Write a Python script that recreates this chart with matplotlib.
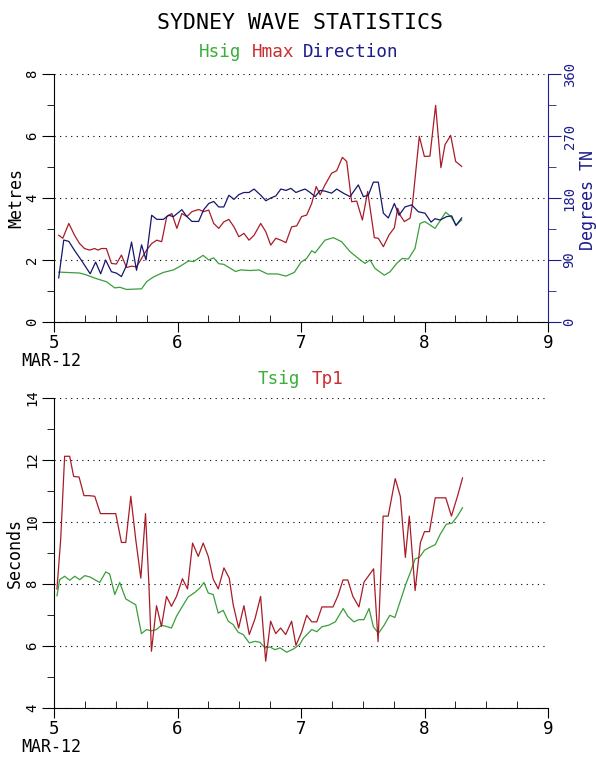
import matplotlib
matplotlib.use('Agg')
from matplotlib import pyplot as plt
from matplotlib.ticker import MultipleLocator

plt.rcParams['font.family'] = ['DejaVu Sans Mono', 'DejaVu Sans']

GREEN = '#3a9e3a'
RED = '#a81c28'
NAVY = '#16166e'
GREEN_TXT = '#3cae3c'
RED_TXT = '#c83030'
NAVY_TXT = '#1c1c8c'

# times are day of month, March 2012
hsig_t = [5.038, 5.207, 5.261, 5.342, 5.424, 5.492, 5.533, 5.587, 5.709, 5.750,
          5.804, 5.886, 5.967, 6.022, 6.090, 6.130, 6.207, 6.253, 6.293, 6.334,
          6.375, 6.470, 6.511, 6.592, 6.660, 6.728, 6.810, 6.878, 6.946, 7.000,
          7.046, 7.087, 7.114, 7.194, 7.262, 7.329, 7.397, 7.464, 7.518, 7.559,
          7.599, 7.675, 7.721, 7.775, 7.820, 7.869, 7.923, 7.964, 8.004, 8.085,
          8.126, 8.171, 8.214, 8.255, 8.301]
hsig = [1.61, 1.58, 1.52, 1.40, 1.30, 1.10, 1.12, 1.05, 1.07, 1.30,
        1.45, 1.60, 1.68, 1.80, 1.97, 1.95, 2.15, 2.00, 2.07, 1.88,
        1.86, 1.63, 1.68, 1.66, 1.68, 1.55, 1.55, 1.48, 1.60, 1.93,
        2.05, 2.30, 2.23, 2.64, 2.72, 2.59, 2.27, 2.05, 1.89, 2.00,
        1.73, 1.51, 1.62, 1.89, 2.05, 2.03, 2.37, 3.18, 3.24, 3.02,
        3.26, 3.54, 3.40, 3.13, 3.29]

hmax_t = [5.038, 5.071, 5.120, 5.166, 5.207, 5.247, 5.288, 5.329, 5.356, 5.383,
          5.424, 5.465, 5.505, 5.546, 5.587, 5.628, 5.668, 5.709, 5.750, 5.791,
          5.832, 5.872, 5.913, 5.954, 5.995, 6.035, 6.076, 6.117, 6.171, 6.212,
          6.253, 6.293, 6.334, 6.375, 6.416, 6.457, 6.497, 6.538, 6.579, 6.620,
          6.674, 6.715, 6.755, 6.796, 6.837, 6.878, 6.924, 6.965, 7.005, 7.046,
          7.087, 7.123, 7.155, 7.194, 7.248, 7.289, 7.335, 7.370, 7.410, 7.451,
          7.497, 7.540, 7.594, 7.626, 7.667, 7.713, 7.756, 7.783, 7.802, 7.837,
          7.883, 7.902, 7.958, 7.999, 8.044, 8.090, 8.133, 8.166, 8.212, 8.252,
          8.301]
hmax = [2.80, 2.70, 3.18, 2.80, 2.53, 2.37, 2.32, 2.37, 2.32, 2.37,
        2.37, 1.89, 1.87, 2.16, 1.76, 1.80, 1.78, 2.05, 2.32, 2.53,
        2.64, 2.59, 3.40, 3.50, 3.02, 3.50, 3.40, 3.56, 3.63, 3.56,
        3.61, 3.18, 3.02, 3.23, 3.31, 3.07, 2.75, 2.86, 2.64, 2.80,
        3.18, 2.91, 2.48, 2.70, 2.64, 2.56, 3.07, 3.10, 3.40, 3.45,
        3.83, 4.37, 4.10, 4.42, 4.80, 4.88, 5.31, 5.18, 3.88, 3.90,
        3.29, 4.21, 2.72, 2.70, 2.43, 2.81, 3.04, 3.67, 3.45, 3.24,
        3.35, 3.78, 5.99, 5.34, 5.35, 6.99, 4.98, 5.72, 6.02, 5.18,
        5.02]

dir_t = [5.038, 5.079, 5.120, 5.166, 5.220, 5.293, 5.337, 5.378, 5.418, 5.465,
         5.505, 5.546, 5.587, 5.628, 5.668, 5.709, 5.745, 5.791, 5.832, 5.886,
         5.927, 5.967, 6.035, 6.076, 6.117, 6.171, 6.212, 6.253, 6.293, 6.334,
         6.375, 6.416, 6.457, 6.497, 6.538, 6.579, 6.620, 6.674, 6.715, 6.755,
         6.796, 6.837, 6.878, 6.918, 6.959, 7.000, 7.033, 7.074, 7.114, 7.155,
         7.194, 7.248, 7.289, 7.343, 7.397, 7.464, 7.505, 7.545, 7.586, 7.626,
         7.667, 7.707, 7.756, 7.794, 7.842, 7.896, 7.950, 8.004, 8.053, 8.085,
         8.126, 8.180, 8.220, 8.255, 8.301]
direction = [64, 119, 117, 104, 90, 70, 87, 70, 90, 73,
             71, 66, 82, 116, 75, 112, 90, 155, 149, 149,
             155, 153, 163, 153, 146, 146, 163, 172, 175, 167,
             167, 184, 178, 185, 188, 188, 193, 184, 176, 180,
             183, 193, 191, 194, 188, 191, 193, 188, 182, 191,
             190, 187, 193, 187, 182, 199, 182, 184, 203, 203,
             158, 151, 172, 155, 167, 170, 160, 158, 145, 150,
             148, 153, 154, 140, 151]

tsig_t = [5.024, 5.046, 5.086, 5.127, 5.168, 5.208, 5.249, 5.289, 5.330, 5.370,
          5.419, 5.451, 5.492, 5.532, 5.581, 5.627, 5.662, 5.708, 5.749, 5.789,
          5.830, 5.870, 5.911, 5.951, 5.992, 6.032, 6.086, 6.141, 6.181, 6.214,
          6.249, 6.289, 6.330, 6.370, 6.411, 6.451, 6.492, 6.532, 6.581, 6.627,
          6.668, 6.708, 6.749, 6.789, 6.830, 6.884, 6.938, 6.990, 7.019, 7.087,
          7.128, 7.169, 7.224, 7.278, 7.341, 7.379, 7.428, 7.469, 7.510, 7.551,
          7.586, 7.627, 7.673, 7.719, 7.760, 7.804, 7.850, 7.886, 7.924, 7.959,
          8.000, 8.041, 8.087, 8.128, 8.177, 8.223, 8.267, 8.308]
tsig = [7.62, 8.14, 8.25, 8.12, 8.25, 8.14, 8.27, 8.23, 8.14, 8.05,
        8.39, 8.32, 7.66, 8.05, 7.52, 7.41, 7.33, 6.40, 6.53, 6.49,
        6.53, 6.67, 6.63, 6.58, 6.96, 7.23, 7.58, 7.73, 7.87, 8.05,
        7.71, 7.66, 7.06, 7.15, 6.80, 6.69, 6.44, 6.37, 6.10, 6.15,
        6.12, 5.94, 5.97, 5.88, 5.94, 5.80, 5.90, 6.05, 6.25, 6.53,
        6.46, 6.62, 6.67, 6.78, 7.21, 6.96, 6.78, 6.85, 6.85, 7.21,
        6.62, 6.41, 6.67, 6.99, 6.92, 7.45, 8.01, 8.38, 8.81, 8.86,
        9.09, 9.18, 9.27, 9.61, 9.93, 9.96, 10.19, 10.46]

tp1_t = [5.024, 5.054, 5.086, 5.127, 5.159, 5.203, 5.243, 5.284, 5.330, 5.376,
         5.419, 5.465, 5.500, 5.546, 5.581, 5.622, 5.662, 5.703, 5.741, 5.768,
         5.789, 5.830, 5.870, 5.911, 5.951, 5.992, 6.040, 6.081, 6.122, 6.168,
         6.208, 6.249, 6.289, 6.330, 6.376, 6.419, 6.451, 6.495, 6.538, 6.581,
         6.627, 6.673, 6.714, 6.754, 6.795, 6.835, 6.876, 6.924, 6.959, 7.005,
         7.046, 7.087, 7.128, 7.169, 7.210, 7.259, 7.300, 7.340, 7.379, 7.420,
         7.469, 7.510, 7.588, 7.624, 7.665, 7.706, 7.763, 7.804, 7.845, 7.877,
         7.924, 7.967, 8.000, 8.040, 8.087, 8.128, 8.172, 8.218, 8.267, 8.308]
tp1 = [7.84, 9.43, 12.12, 12.12, 11.47, 11.45, 10.85, 10.85, 10.83, 10.27,
       10.27, 10.27, 10.27, 9.34, 9.34, 10.83, 9.43, 8.19, 10.27, 8.03,
       5.83, 7.30, 6.63, 7.60, 7.28, 7.60, 8.17, 7.84, 9.32, 8.89,
       9.32, 8.89, 8.16, 7.84, 8.52, 8.19, 7.33, 6.58, 7.30, 6.37,
       6.87, 7.60, 5.51, 6.80, 6.40, 6.58, 6.37, 6.80, 6.02, 6.45,
       6.99, 6.78, 6.78, 7.26, 7.26, 7.26, 7.63, 8.13, 8.13, 7.60,
       7.26, 8.06, 8.49, 6.14, 10.19, 10.19, 11.40, 10.83, 8.86, 10.19,
       7.79, 9.34, 9.69, 9.69, 10.78, 10.78, 10.78, 10.19, 10.83, 11.42]

W, H = 596, 761
fig = plt.figure(figsize=(W / 100, H / 100), dpi=100)


def px_box(left, top, right, bottom):
    return [left / W, 1 - bottom / H, (right - left) / W, (bottom - top) / H]


def style(ax, ylo, yhi, ystep):
    ax.set_xlim(5, 9)
    ax.set_ylim(ylo, yhi)
    ax.xaxis.set_major_locator(MultipleLocator(1))
    ax.xaxis.set_minor_locator(MultipleLocator(0.25))
    ax.yaxis.set_major_locator(MultipleLocator(ystep))
    ax.yaxis.set_minor_locator(MultipleLocator(ystep / 2))
    for side in ('top', 'right'):
        ax.spines[side].set_visible(False)
    ax.tick_params(axis='x', which='major', direction='out', length=7, labelsize=12.5, pad=1.5)
    ax.tick_params(axis='x', which='minor', direction='in', length=5)
    ax.tick_params(axis='y', which='major', direction='out', length=9, labelsize=10,
                   pad=1.5, labelrotation=90)
    ax.tick_params(axis='y', which='minor', direction='out', length=5)
    for lab in ax.get_yticklabels():
        lab.set_va('center')
    ax.yaxis.grid(True, linestyle=(0, (1, 4)), color='black', linewidth=0.8)
    ax.set_axisbelow(True)


ax1 = fig.add_axes(px_box(54, 74, 548, 322))
style(ax1, 0, 8, 2)
ax1.plot(hsig_t, hsig, color=GREEN, lw=0.9)
ax1.plot(hmax_t, hmax, color=RED, lw=0.9)

axr = ax1.twinx()
axr.set_ylim(0, 360)
axr.yaxis.set_major_locator(MultipleLocator(90))
axr.yaxis.set_minor_locator(MultipleLocator(45))
for side in ('top', 'left', 'bottom'):
    axr.spines[side].set_visible(False)
axr.spines['right'].set_color(NAVY_TXT)
axr.tick_params(axis='y', which='both', colors=NAVY_TXT, direction='out')
axr.tick_params(axis='y', which='major', length=9, labelsize=10, pad=1.5, labelrotation=90)
axr.tick_params(axis='y', which='minor', length=6)
for lab in axr.get_yticklabels():
    lab.set_va('center')
axr.plot(dir_t, direction, color=NAVY, lw=0.9)

ax2 = fig.add_axes(px_box(54, 398, 548, 708))
style(ax2, 4, 14, 2)
ax2.plot(tsig_t, tsig, color=GREEN, lw=0.9)
ax2.plot(tp1_t, tp1, color=RED, lw=0.9)

fig.text(300 / W, 1 - 23 / H, 'SYDNEY WAVE STATISTICS', ha='center', va='center', fontsize=15.5)
for word, x, c in [('Hsig', 199, GREEN_TXT), ('Hmax', 252, RED_TXT), ('Direction', 303, NAVY_TXT)]:
    fig.text(x / W, 1 - 57 / H, word, color=c, fontsize=12.7, va='baseline')
for word, x, c in [('Tsig', 258, GREEN_TXT), ('Tp1', 312, RED_TXT)]:
    fig.text(x / W, 1 - 384 / H, word, color=c, fontsize=12.7, va='baseline')

fig.text(21 / W, 1 - 352 / H, 'MAR-12', fontsize=12, va='top')
fig.text(21 / W, 1 - 738 / H, 'MAR-12', fontsize=12, va='top')
fig.text(16 / W, 1 - 198 / H, 'Metres', fontsize=12, rotation=90, ha='center', va='center')
fig.text(15 / W, 1 - 553 / H, 'Seconds', fontsize=12, rotation=90, ha='center', va='center')
fig.text(588 / W, 1 - 200 / H, 'Degrees TN', fontsize=12, rotation=90, ha='center', va='center',
         color=NAVY_TXT)

fig.savefig('out.png', dpi=100)
